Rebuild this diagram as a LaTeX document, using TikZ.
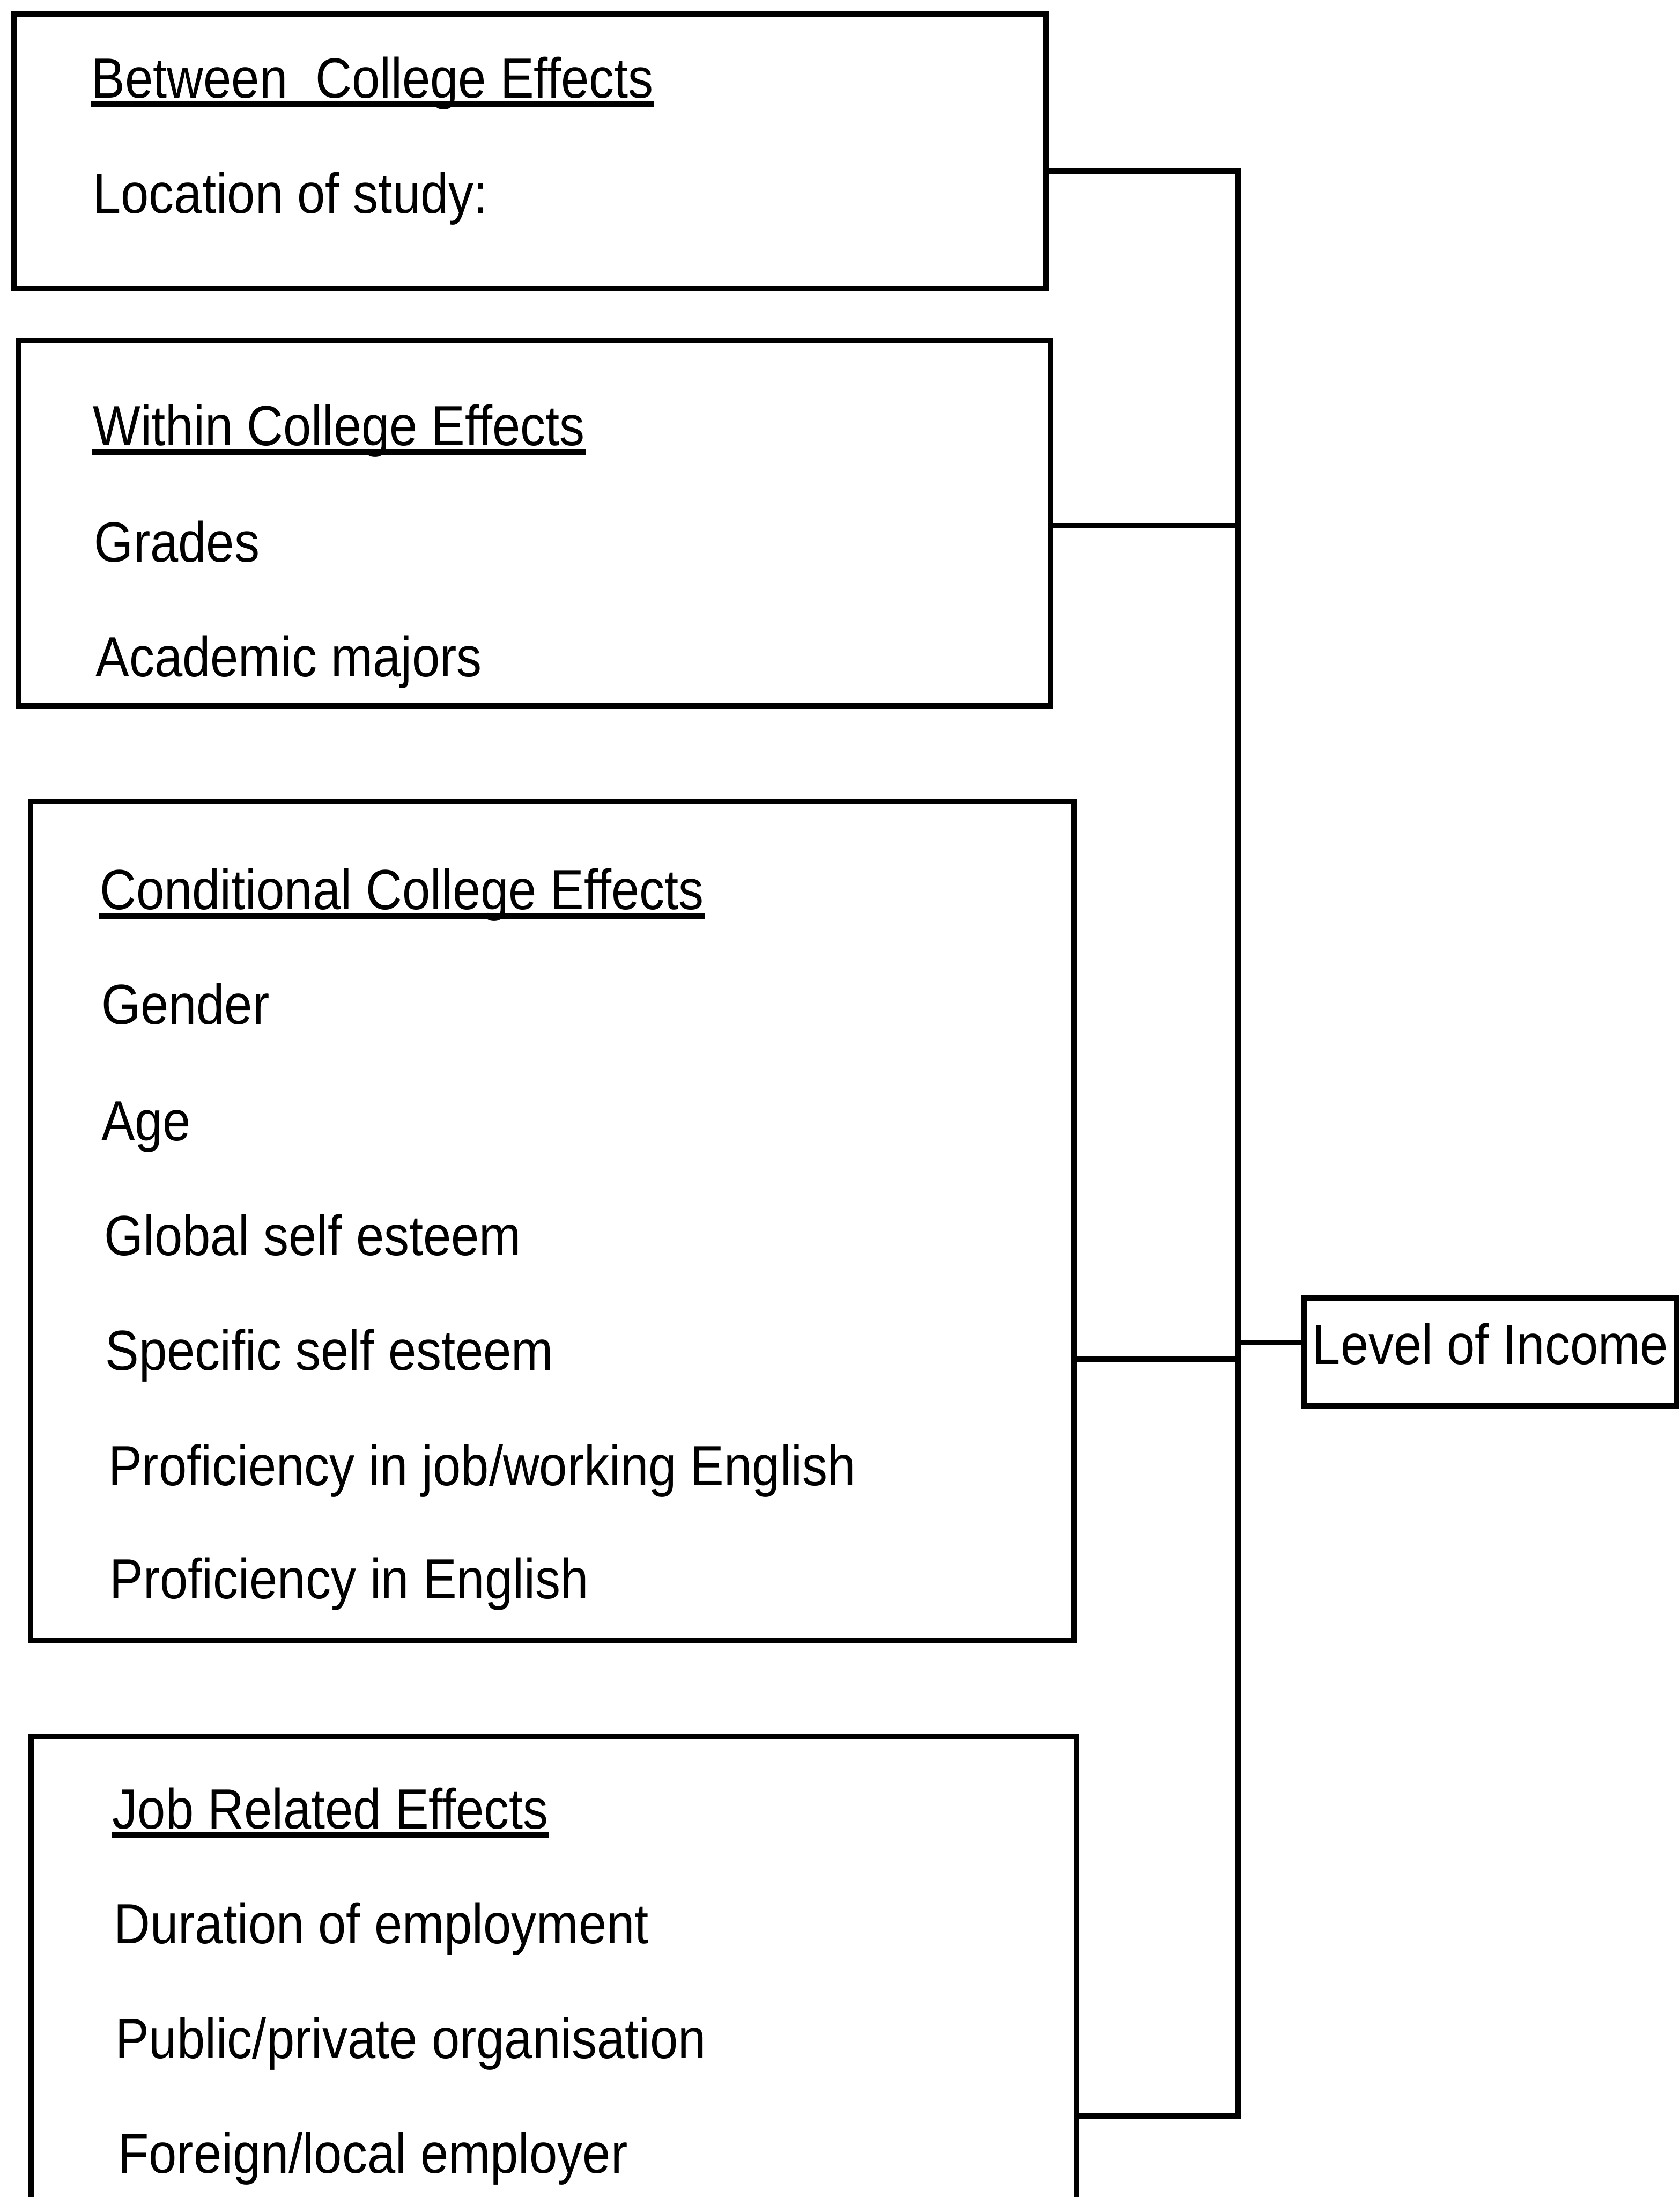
\documentclass[tikz,border=0pt]{standalone}
\usepackage{fontspec}
\setmainfont{Liberation Sans}[FakeStretch=0.89]
\usetikzlibrary{calc}
\tikzset{
  effect box/.style={
    draw,
    line width=2.2pt,
    anchor=north west,
    inner sep=0pt
  },
  open box/.style={
    anchor=north west,
    inner sep=0pt
  },
  item/.style={
    anchor=base west,
    inner sep=0pt,
    font=\fontsize{23}{27}\selectfont
  },
  head rule/.style={
    line width=2.4pt
  },
  link/.style={
    line width=2.2pt
  }
}

\begin{document}
\begin{tikzpicture}[x=0.02cm, y=-0.02cm]

  \useasboundingbox (0,0) rectangle (1199,1568);

  %% ---- the four effect boxes ----
  \node[effect box, minimum width=14.74cm, minimum height=3.92cm]  (bce) at (8,8) {};
  \node[effect box, minimum width=14.74cm, minimum height=5.22cm]  (wce) at (11,241) {};
  \node[effect box, minimum width=14.90cm, minimum height=11.98cm] (cce) at (20,570) {};
  % last box runs off the bottom of the page: no bottom edge
  \node[open box, minimum width=14.92cm, minimum height=6.62cm]    (jre) at (22,1239) {};
  \draw[link] (jre.south west) |- (jre.north east) -- (jre.south east);

  %% ---- between college effects ----
  \node[item] (bceh) at (65,70) {Between\ \ College Effects};
  \node[item] (bce1) at (66,152) {Location of study:};

  %% ---- within college effects ----
  \node[item] (wceh) at (66,318) {Within College Effects};
  \node[item] (wce1) at (67,401) {Grades};
  \node[item] (wce2) at (68,483) {Academic majors};

  %% ---- conditional college effects ----
  \node[item] (cceh) at (71,649)  {Conditional College Effects};
  \node[item] (cce1) at (72,731)  {Gender};
  \node[item] (cce2) at (72,814)  {Age};
  \node[item] (cce3) at (74,896)  {Global self esteem};
  \node[item] (cce4) at (75,978)  {Specific self esteem};
  \node[item] (cce5) at (77,1060) {Proficiency in job/working English};
  \node[item] (cce6) at (78,1141) {Proficiency in English};

  %% ---- job related effects ----
  \node[item] (jreh) at (80,1305) {Job Related Effects};
  \node[item] (jre1) at (81,1387) {Duration of employment};
  \node[item] (jre2) at (82,1469) {Public/private organisation};
  \node[item] (jre3) at (84,1551) {Foreign/local employer};

  % underlined headings
  \foreach \h in {bceh, wceh, cceh, jreh}
    \draw[head rule] ([yshift=-0.09cm]\h.base west) -- ([yshift=-0.09cm]\h.base east);

  %% ---- outcome ----
  \node[effect box, anchor=center, minimum width=5.32cm, minimum height=1.54cm,
        text depth=0.24cm, font=\fontsize{23}{27}\selectfont] (loi) at (1064,965) {Level of Income};

  %% ---- bus joining the boxes ----
  \coordinate (b1) at (884,122);
  \coordinate (b2) at (884,375);
  \coordinate (b3) at (884,970);
  \coordinate (b4) at (884,1510);
  \coordinate (bl) at (884,958);

  \draw[link] (bce.east |- b1) -- (b1) -- (b4) -- (jre.east |- b4);
  \draw[link] (wce.east |- b2) -- (b2);
  \draw[link] (cce.east |- b3) -- (b3);
  \draw[link] (bl) -- (loi.west |- bl);

\end{tikzpicture}
\end{document}
